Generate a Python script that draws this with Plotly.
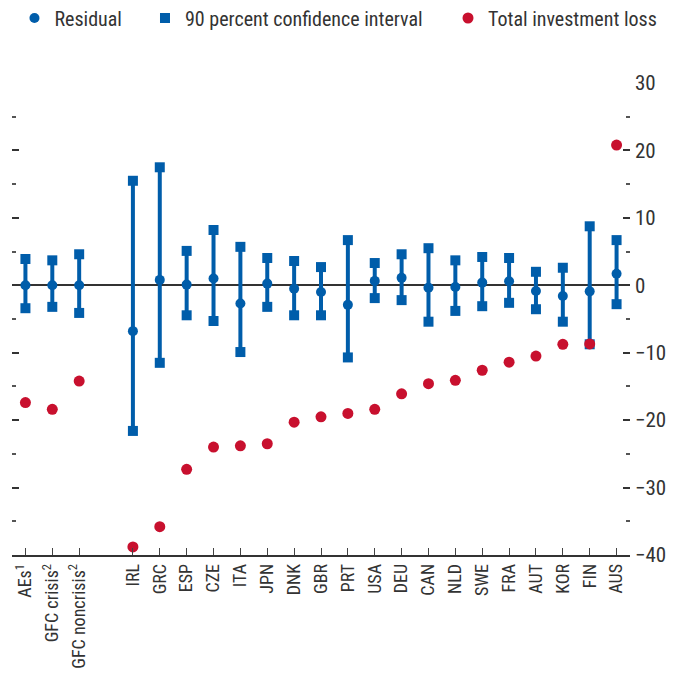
import plotly.graph_objects as go

# ---- data ----
categories = ["AEs<sup>1</sup>", "GFC crisis<sup>2</sup>", "GFC noncrisis<sup>2</sup>", "",
              "IRL", "GRC", "ESP", "CZE", "ITA", "JPN", "DNK", "GBR", "PRT", "USA", "DEU",
              "CAN", "NLD", "SWE", "FRA", "AUT", "KOR", "FIN", "AUS"]
residual = [0.0, 0.0, 0.0, None,
            -6.8, 0.8, 0.1, 1.0, -2.7, 0.25, -0.5, -1.0, -2.9, 0.65, 1.1,
            -0.35, -0.25, 0.4, 0.6, -0.85, -1.6, -0.9, 1.7]
ci_upper = [3.9, 3.7, 4.6, None,
            15.5, 17.5, 5.1, 8.2, 5.7, 4.05, 3.6, 2.7, 6.7, 3.3, 4.6,
            5.5, 3.7, 4.2, 4.05, 2.0, 2.6, 8.75, 6.7]
ci_lower = [-3.4, -3.2, -4.1, None,
            -21.6, -11.5, -4.45, -5.3, -9.9, -3.2, -4.45, -4.45, -10.7, -1.9, -2.2,
            -5.4, -3.8, -3.1, -2.6, -3.55, -5.4, -8.75, -2.8]
total_loss = [-17.4, -18.4, -14.2, None,
              -38.8, -35.8, -27.3, -24.0, -23.8, -23.5, -20.3, -19.5, -19.0, -18.4, -16.1,
              -14.6, -14.1, -12.6, -11.4, -10.5, -8.75, -8.7, 20.8]
y_ticks = [-40, -30, -20, -10, 0, 10, 20, 30]
y_tick_text = ["\u221240", "\u221230", "\u221220", "\u221210", "0", "10", "20", "30"]

BLUE = "#005DAA"
RED = "#C8102E"
TEXT = "#333333"
FONT = "Liberation Sans Narrow, Roboto Condensed, Arial Narrow, DejaVu Sans Condensed, sans-serif"

xs = list(range(len(categories)))
valid = [i for i in xs if categories[i] != ""]

# interval segments
seg_x, seg_y = [], []
for i in valid:
    seg_x += [i, i, None]
    seg_y += [ci_lower[i], ci_upper[i], None]

fig = go.Figure()
fig.add_trace(go.Scatter(x=seg_x, y=seg_y, mode="lines", line=dict(color=BLUE, width=4),
                         showlegend=False, hoverinfo="skip"))
fig.add_trace(go.Scatter(x=[i for i in valid] * 2,
                         y=[ci_upper[i] for i in valid] + [ci_lower[i] for i in valid],
                         mode="markers", marker=dict(symbol="square", size=10, color=BLUE),
                         name="90 percent confidence interval", legend="legend2"))
fig.add_trace(go.Scatter(x=valid, y=[residual[i] for i in valid], mode="markers",
                         marker=dict(symbol="circle", size=10, color=BLUE),
                         name="Residual", legend="legend"))
fig.add_trace(go.Scatter(x=valid, y=[total_loss[i] for i in valid], mode="markers",
                         marker=dict(symbol="circle", size=11, color=RED),
                         name="Total investment loss", legend="legend3"))

leg_common = dict(orientation="h", xanchor="left", y=1.1377, yanchor="middle",
                  font=dict(size=20, color=TEXT), itemwidth=30,
                  bgcolor="rgba(0,0,0,0)")

# page body has an 8px default margin: plot area should sit at x 12..630, y 83..555 in window
fig.update_layout(
    width=676, height=677,
    margin=dict(l=4, r=54, t=75, b=130, autoexpand=False),
    paper_bgcolor="white", plot_bgcolor="white",
    font=dict(family=FONT, color=TEXT, size=18),
    showlegend=True,
    legend=dict(x=0.004, **leg_common),
    legend2=dict(x=0.2152, **leg_common),
    legend3=dict(x=0.7055, **leg_common),
    xaxis=dict(range=[-0.5, len(categories) - 0.5], tickmode="array",
               tickvals=valid, ticktext=[categories[i] for i in valid],
               tickangle=-90, ticks="inside", ticklen=7, tickcolor="#444", tickwidth=1.2,
               tickfont=dict(size=18, color=TEXT),
               showline=True, linecolor="#333", linewidth=1.5, showgrid=False, zeroline=False),
    yaxis=dict(range=[-40, 30], side="right", tickmode="array",
               tickvals=y_ticks, ticktext=y_tick_text, tickfont=dict(size=21, color=TEXT),
               ticks="inside", ticklen=7, tickcolor="#333", tickwidth=1.5, showgrid=False,
               ticklabelstandoff=4,
               mirror="ticks", showline=False,
               zeroline=True, zerolinecolor="#333", zerolinewidth=1.5,
               minor=dict(dtick=5, tick0=0, ticks="inside", ticklen=4, tickcolor="#555",
                          tickwidth=1.5)),
)

fig.write_html("out.html")
